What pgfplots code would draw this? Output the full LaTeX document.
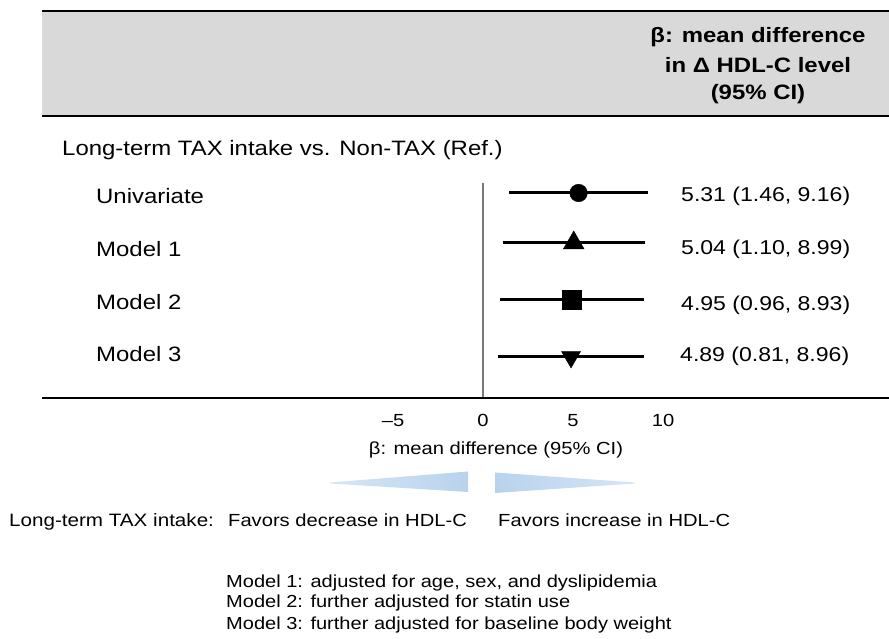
\documentclass[border=0pt]{standalone}
\usepackage{fontspec}
\setmainfont{Liberation Sans}[FakeStretch=1.15]
\usepackage{pgfplots}
\pgfplotsset{compat=1.18}
\definecolor{hdr}{RGB}{217,217,217}
\definecolor{arrowblue}{RGB}{184,211,237}
\definecolor{arrowlight}{RGB}{214,230,246}
\definecolor{zeroline}{RGB}{120,120,120}
\newcommand\bigtxt{\fontsize{20.9}{25}\selectfont}
\newcommand\esttxt{\fontsize{20.1}{24}\selectfont}
\newcommand\smalltxt{\fontsize{17.6}{21}\selectfont}
\newcommand\notetxt{\fontsize{17.5}{21}\selectfont}
\begin{document}
\begin{tikzpicture}[x=1bp,y=1bp]
\useasboundingbox (0,0) rectangle (889,639);
% header band
\fill[hdr] (42,524) rectangle (889,627);
\draw[line width=2.5bp] (42,628) -- (889,628);
\draw[line width=2.5bp] (42,523) -- (889,523);
\node[anchor=base, inner sep=0pt, font=\bigtxt\bfseries] at (758,596) {β: mean difference};
\node[anchor=base, inner sep=0pt, font=\bigtxt\bfseries] at (758,566.5) {in Δ HDL-C level};
\node[anchor=base, inner sep=0pt, font=\bigtxt\bfseries] at (758,539) {(95\% CI)};

\begin{axis}[
  at={(42bp,241bp)}, anchor=south west, scale only axis,
  width=847bp, height=386bp,
  xmin=-24.5, xmax=22.5556, ymin=-398, ymax=-12,
  hide y axis, axis x line*=bottom,
  x axis line style={line width=2bp,-},
  xtick={-5,0,5,10}, xticklabels={–5,0,5,10},
  major tick length=0pt,
  xticklabel style={anchor=base, yshift=-28.7bp, inner sep=0pt, font=\smalltxt},
  clip=false,
]
\draw[zeroline, line width=1.2bp] (axis cs:0,-183) -- (axis cs:0,-397);
\addplot[black, only marks, mark=*, mark size=8.8bp, mark options={line width=0.4bp, fill=black},
  error bars/.cd, x dir=both, x explicit, error mark=none,
  error bar style={line width=3bp, black}]
  coordinates {(5.31,-193) += (3.85,0) -= (3.85,0)};
\addplot[black, only marks, mark=triangle*, mark size=12bp, mark options={line width=0.4bp, fill=black},
  error bars/.cd, x dir=both, x explicit, error mark=none,
  error bar style={line width=3bp, black}]
  coordinates {(5.04,-243) += (3.95,0) -= (3.94,0)};
\addplot[black, only marks, mark=square*, mark size=9.5bp, mark options={line width=0.4bp, fill=black},
  error bars/.cd, x dir=both, x explicit, error mark=none,
  error bar style={line width=3bp, black}]
  coordinates {(4.95,-300) += (3.98,0) -= (3.99,0)};
\addplot[black, only marks, mark=triangle*, mark size=11bp, mark options={line width=0.4bp, fill=black, rotate=180},
  error bars/.cd, x dir=both, x explicit, error mark=none,
  error bar style={line width=3bp, black}]
  coordinates {(4.89,-357) += (4.07,0) -= (4.08,0)};
\end{axis}

% row labels
\node[anchor=base west, inner sep=0pt, font=\bigtxt] at (62,483) {Long-term TAX intake vs. Non-TAX (Ref.)};
\node[anchor=base west, inner sep=0pt, font=\bigtxt] at (96,435) {Univariate};
\node[anchor=base west, inner sep=0pt, font=\bigtxt] at (96,382.5) {Model 1};
\node[anchor=base west, inner sep=0pt, font=\bigtxt] at (96,329) {Model 2};
\node[anchor=base west, inner sep=0pt, font=\bigtxt] at (96,277) {Model 3};
% estimates
\node[anchor=base west, inner sep=0pt, font=\esttxt] at (681,437.5) {5.31 (1.46, 9.16)};
\node[anchor=base west, inner sep=0pt, font=\esttxt] at (681,384) {5.04 (1.10, 8.99)};
\node[anchor=base west, inner sep=0pt, font=\esttxt] at (681,328) {4.95 (0.96, 8.93)};
\node[anchor=base west, inner sep=0pt, font=\esttxt] at (680,277) {4.89 (0.81, 8.96)};
% x label
\node[anchor=base, inner sep=0pt, font=\smalltxt] at (496,184) {β: mean difference (95\% CI)};
% arrows
\shade[left color=arrowlight, right color=arrowblue] (330,156.5) -- (468,167.5) -- (468,147) -- (330,155.5) -- cycle;
\shade[left color=arrowblue, right color=arrowlight] (495,166.5) -- (635,156.5) -- (635,155.5) -- (495,146) -- cycle;
% favors
\node[anchor=base west, inner sep=0pt, font=\fontsize{18}{22}\selectfont] at (9,112) {Long-term TAX intake:};
\node[anchor=base west, inner sep=0pt, font=\smalltxt] at (228,112) {Favors decrease in HDL-C};
\node[anchor=base west, inner sep=0pt, font=\smalltxt] at (498,112) {Favors increase in HDL-C};
% footnotes
\node[anchor=base west, inner sep=0pt, font=\notetxt] at (226,51) {Model 1: adjusted for age, sex, and dyslipidemia};
\node[anchor=base west, inner sep=0pt, font=\notetxt] at (226,31) {Model 2: further adjusted for statin use};
\node[anchor=base west, inner sep=0pt, font=\notetxt] at (226,9) {Model 3: further adjusted for baseline body weight};
\end{tikzpicture}
\end{document}
